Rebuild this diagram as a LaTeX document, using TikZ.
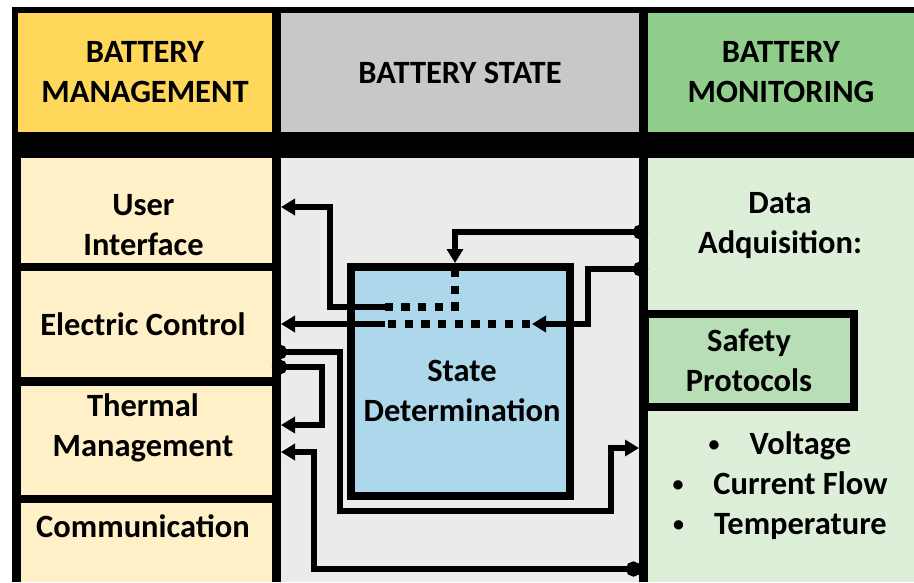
\documentclass[tikz,border=0pt]{standalone}
\usepackage{fontspec}
\setmainfont{Carlito}
\usetikzlibrary{arrows.meta}

\definecolor{mgmtgold}{HTML}{FFD75A}
\definecolor{mgmtcream}{HTML}{FFF0C8}
\definecolor{stategray}{HTML}{C8C8C8}
\definecolor{statelight}{HTML}{EBEBEB}
\definecolor{mongreen}{HTML}{92CE8B}
\definecolor{monlight}{HTML}{DDEFD9}
\definecolor{safegreen}{HTML}{B7DEB4}
\definecolor{detblue}{HTML}{ADD7EB}

% small list bullet
\newcommand{\listdot}{{\fontsize{22pt}{22pt}\selectfont\raisebox{3.5pt}{\textbullet}}\hspace{30pt}}

\begin{document}
\begin{tikzpicture}[x=1pt, y=-1pt,
panel/.style={rectangle, anchor=north west, inner sep=0pt, outer sep=0pt},
boxtext/.style={font=\fontsize{32.5pt}{40pt}\selectfont\bfseries, align=center, inner sep=0pt},
feed/.style={line width=6pt, -{Triangle[length=14pt,width=16pt]}},
tapped/.style={line width=6pt, {Circle[length=15pt]}-{Triangle[length=14pt,width=16pt]}},
dotlink/.style={line width=7.5pt, dash pattern=on 8.3pt off 8.4pt},
]
\useasboundingbox (0,0) rectangle (914,582);

% black frame and separators
\fill (12,7) rectangle (914,582);

% column headers
\node[panel, boxtext, fill=mgmtgold, minimum width=254pt, minimum height=119pt] (mgmthead) at (18,13) {BATTERY\\MANAGEMENT};
\node[panel, boxtext, fill=stategray, minimum width=358pt, minimum height=119pt] (statehead) at (281,13) {BATTERY STATE};
\node[panel, boxtext, fill=mongreen, minimum width=266pt, minimum height=119pt] (monhead) at (648,13) {BATTERY\\MONITORING};

% management blocks
\node[panel, fill=mgmtcream, minimum width=251pt, minimum height=105pt] (uibox) at (21,158) {};
\node[panel, fill=mgmtcream, minimum width=251pt, minimum height=106pt] (ecbox) at (21,271) {};
\node[panel, fill=mgmtcream, minimum width=251pt, minimum height=109pt] (tmbox) at (21,386) {};
\node[panel, fill=mgmtcream, minimum width=251pt, minimum height=79pt] (combox) at (21,503) {};

% state and monitoring areas
\node[panel, fill=statelight, minimum width=358pt, minimum height=424pt] (statepanel) at (281,158) {};
\node[panel, fill=monlight, minimum width=266pt, minimum height=424pt] (monpanel) at (648,158) {};

\node[draw, line width=8pt, fill=safegreen, boxtext, minimum width=209pt, minimum height=93pt] (safety) at (749,360.5) {Safety\\Protocols};
\node[draw, line width=8pt, fill=detblue, inner sep=0pt, minimum width=219pt, minimum height=229pt] (detbox) at (460.5,381.5) {};

% texts
\node[boxtext] (uitext) at (143.5,225) {User\\Interface};
\node[boxtext] (ectext) at (143,324) {Electric Control};
\node[boxtext] (tmtext) at (143,428) {Thermal\\Management};
\node[boxtext] (comtext) at (143,526) {Communication};
\node[boxtext] (dettext) at (462,391) {State\\Determination};
\node[boxtext] (daqtext) at (780,226) {Data\\Adquisition:};
\node[boxtext] (sensortext) at (780,486) {\listdot Voltage\\\listdot Current Flow\\\listdot Temperature};

% split points inside the state block
\coordinate (uppersplit) at (385,307);
\coordinate (ecjoin) at (532,324);
\coordinate (ecsplit) at (385,324);

% monitoring data into the state block
\draw[tapped] (monpanel.west |- 0,232) -| ([xshift=-5.5pt]detbox.north);
\draw[dotlink, dash phase=10.7pt] ([xshift=-5.5pt]detbox.north) |- (uppersplit);
\draw[feed] (uppersplit) -| (330,207) -- (statepanel.west |- 0,207);

\draw[tapped] (monpanel.west |- 0,269) -| (588,324) -- (ecjoin);
\draw[dotlink, dash phase=14.5pt] (ecjoin) -- (ecsplit);
\draw[feed] (ecsplit) -- (statepanel.west |- ecbox.east);

% management feedback loops
\draw[tapped] (ecbox.east |- 0,352) -| (340,511) -| (611,448) -- (statepanel.east |- 0,448);
\draw[tapped] (ecbox.east |- 0,367) -| (322,425) -- (statepanel.west |- 0,425);
\draw[tapped] (641,569) -| (314,452) -- (statepanel.west |- 0,452);
\end{tikzpicture}
\end{document}
